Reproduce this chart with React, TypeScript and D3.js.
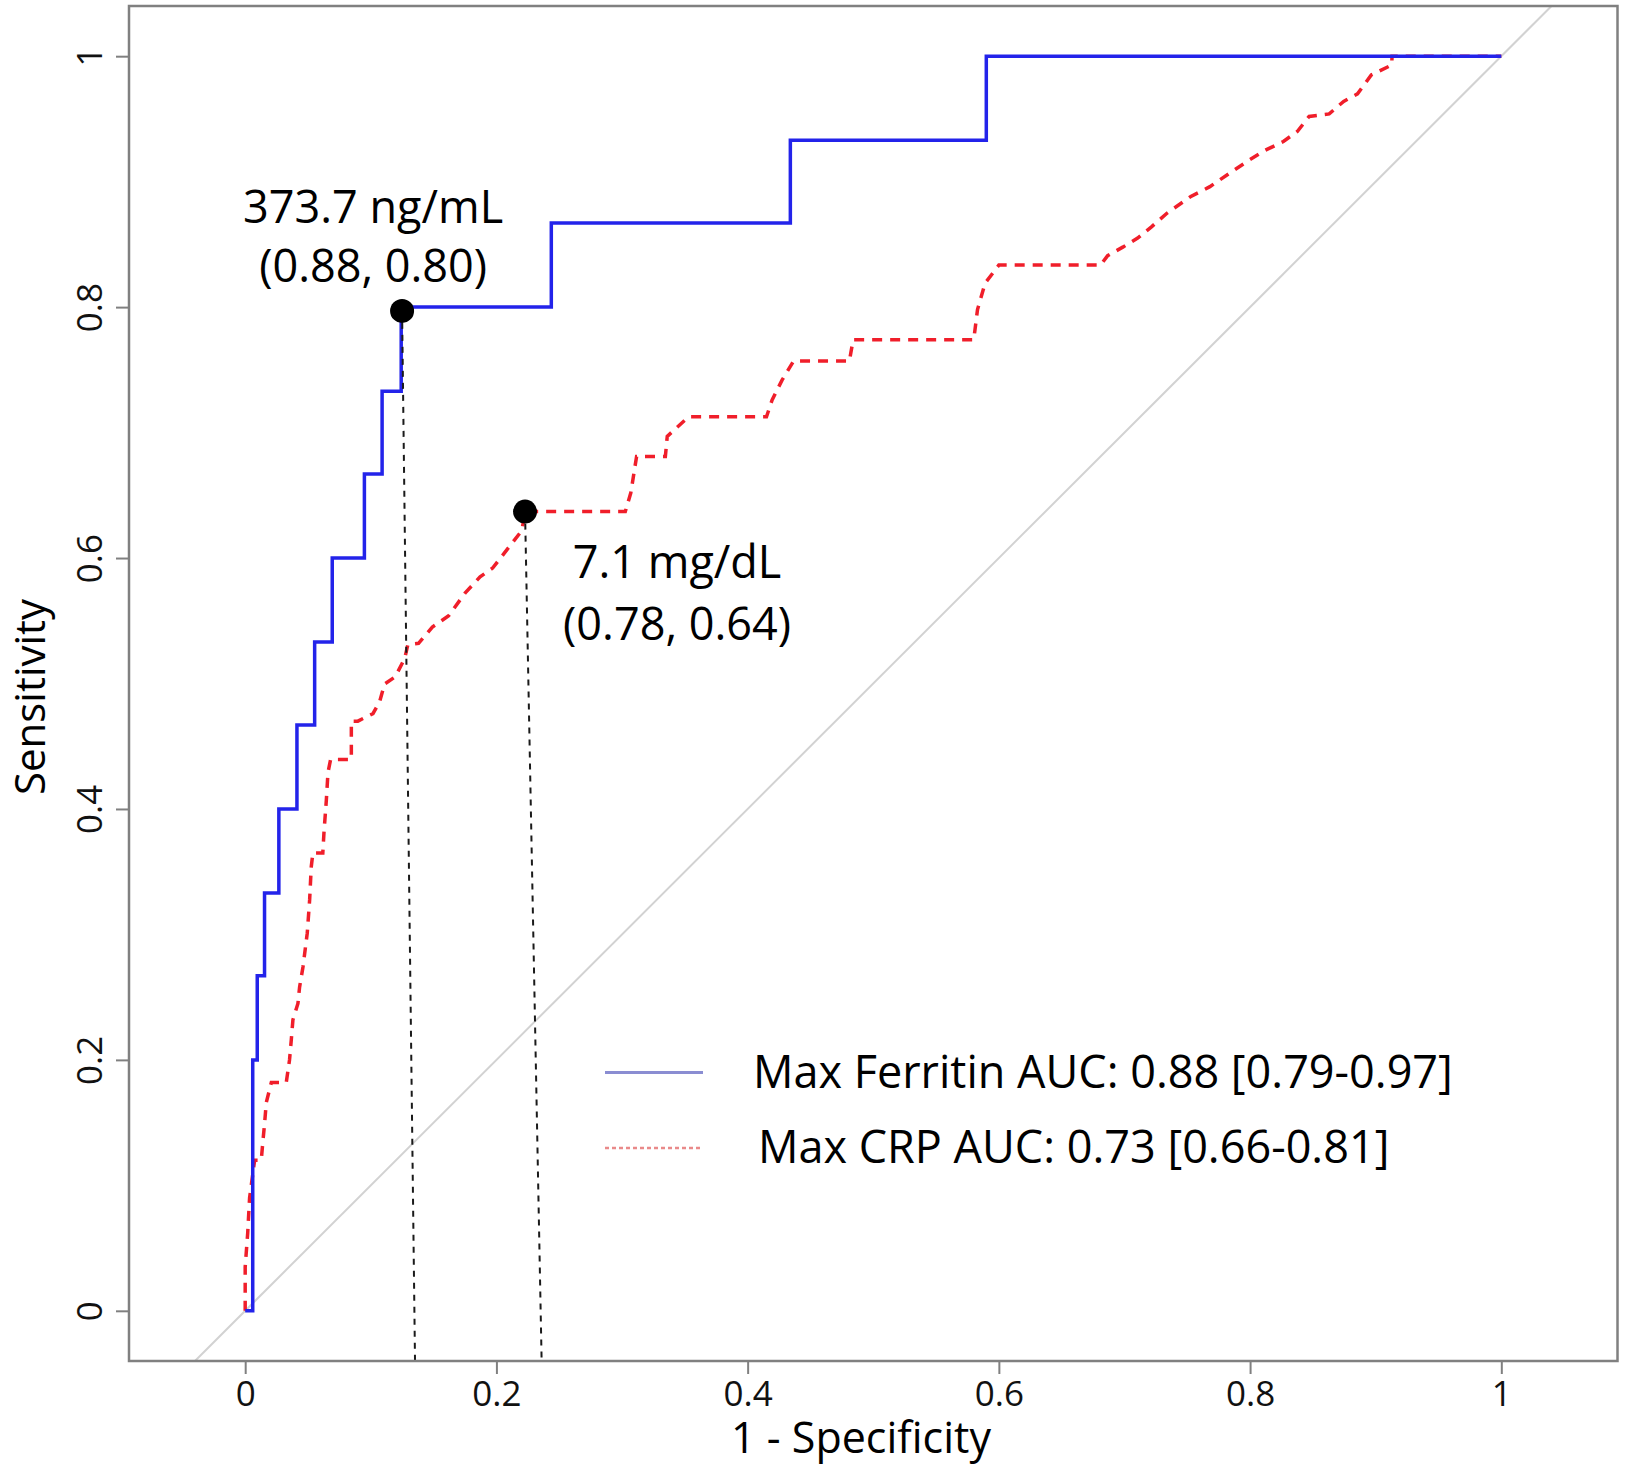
import React, { useEffect, useRef } from 'react';
import * as d3 from 'd3';

// ROC coordinates: [1 - specificity, sensitivity]
const ferritinRoc: [number, number][] = [
    [0, 0], [0.006, 0.2], [0.0096, 0.267], [0.0154, 0.333], [0.0268, 0.4],
    [0.0412, 0.467], [0.0553, 0.533], [0.0693, 0.6], [0.0949, 0.667],
    [0.109, 0.733], [0.1242, 0.8], [0.2437, 0.867], [0.434, 0.933],
    [0.59, 1.0], [1.0, 1.0]
];

const crpRoc: [number, number][] = [
    [0, 0], [0, 0.035], [0.002, 0.062], [0.0035, 0.09], [0.0075, 0.12], [0.0128, 0.12],
    [0.014, 0.134], [0.0155, 0.15], [0.0168, 0.166], [0.0208, 0.182], [0.0327, 0.182],
    [0.0353, 0.2], [0.0367, 0.216], [0.038, 0.232], [0.042, 0.245], [0.0433, 0.258],
    [0.046, 0.274], [0.0494, 0.301], [0.0513, 0.3275], [0.0526, 0.354], [0.0539, 0.365],
    [0.0618, 0.365], [0.0627, 0.381], [0.0646, 0.407], [0.0659, 0.429], [0.068, 0.4395],
    [0.0845, 0.4395], [0.0845, 0.47], [0.0897, 0.47], [0.1017, 0.476], [0.107, 0.4855],
    [0.111, 0.4996], [0.1195, 0.5054], [0.127, 0.52], [0.1295, 0.531], [0.138, 0.532],
    [0.149, 0.545], [0.162, 0.554], [0.175, 0.572], [0.187, 0.585], [0.197, 0.592],
    [0.211, 0.61], [0.2203, 0.622], [0.2228, 0.637], [0.3026, 0.637], [0.307, 0.652],
    [0.3116, 0.681], [0.3345, 0.681], [0.336, 0.697], [0.353, 0.7126], [0.415, 0.7126],
    [0.4195, 0.726], [0.4275, 0.742], [0.4366, 0.757], [0.481, 0.757], [0.484, 0.774],
    [0.58, 0.774], [0.583, 0.798], [0.589, 0.819], [0.6, 0.8335], [0.681, 0.8335],
    [0.6866, 0.841], [0.699, 0.848], [0.7105, 0.855], [0.7215, 0.864], [0.734, 0.875],
    [0.7525, 0.888], [0.768, 0.896], [0.784, 0.907], [0.799, 0.917], [0.812, 0.925],
    [0.8265, 0.932], [0.8376, 0.94], [0.847, 0.952], [0.863, 0.954], [0.8745, 0.964],
    [0.8855, 0.97], [0.8965, 0.985], [0.9128, 0.993], [0.913, 1.0], [1.0, 1.0]
];

// optimal cut-offs: point on the curve and where the hand-drawn drop line meets the axis
const cutoffPoints = [
    { fpr: 0.1249, tpr: 0.797, dropFpr: 0.1352, label: ['373.7 ng/mL', '(0.88, 0.80)'] },
    { fpr: 0.2228, tpr: 0.637, dropFpr: 0.236, label: ['7.1 mg/dL', '(0.78, 0.64)'] }
];

const tickValues = [0, 0.2, 0.4, 0.6, 0.8, 1];
const tickLabels = ['0', '0.2', '0.4', '0.6', '0.8', '1'];

const legendLabels = ['Max Ferritin AUC: 0.88 [0.79-0.97]', 'Max CRP AUC: 0.73 [0.66-0.81]'];

const FONT = "'Open Sans', sans-serif";

export default function App() {
    const svgRef = useRef<SVGSVGElement>(null);

    useEffect(() => {
        const svg = d3.select(svgRef.current);
        svg.selectAll('*').remove();

        const width = 1625;
        const height = 1469;
        const margin = { top: 6, right: 7.5, bottom: 108, left: 129 };
        const x0 = margin.left, x1 = width - margin.right;
        const y0 = height - margin.bottom, y1 = margin.top;

        // pROC style: equal aspect, x range widened around [0, 1]
        const x = d3.scaleLinear().domain([-0.0925, 1.0925]).range([x0, x1]);
        const y = d3.scaleLinear().domain([-0.04, 1.04]).range([y0, y1]);

        svg.append('rect')
            .attr('width', width).attr('height', height).attr('fill', '#fff');

        // chance diagonal
        svg.append('line')
            .attr('x1', x(-0.04)).attr('y1', y(-0.04))
            .attr('x2', x(1.04)).attr('y2', y(1.04))
            .attr('stroke', '#d2d2d2').attr('stroke-width', 2);

        // CRP curve (red dashed)
        const lineLinear = d3.line<[number, number]>().x(d => x(d[0])).y(d => y(d[1]));
        svg.append('path')
            .attr('d', lineLinear(crpRoc))
            .attr('fill', 'none')
            .attr('stroke', '#f01e2a')
            .attr('stroke-width', 3.5)
            .attr('stroke-dasharray', '10 8');

        // Ferritin curve (blue solid, step)
        const lineStep = d3.line<[number, number]>().x(d => x(d[0])).y(d => y(d[1])).curve(d3.curveStepAfter);
        svg.append('path')
            .attr('d', lineStep(ferritinRoc))
            .attr('fill', 'none')
            .attr('stroke', '#2323ea')
            .attr('stroke-width', 3.5);

        // drop lines from cut-offs to the x axis
        svg.selectAll('.drop')
            .data(cutoffPoints)
            .join('line')
            .attr('class', 'drop')
            .attr('x1', d => x(d.fpr)).attr('y1', d => y(d.tpr))
            .attr('x2', d => x(d.dropFpr)).attr('y2', y0)
            .attr('stroke', '#1a1a1a')
            .attr('stroke-width', 2)
            .attr('stroke-dasharray', '6 6');

        svg.selectAll('.cut')
            .data(cutoffPoints)
            .join('circle')
            .attr('class', 'cut')
            .attr('cx', d => x(d.fpr)).attr('cy', d => y(d.tpr))
            .attr('r', 12)
            .attr('fill', '#000');

        // cut-off annotations
        const labelOffsets = [
            { dx: -29, dy: [-88, -29] },
            { dx: 152, dy: [66, 128] }
        ];
        cutoffPoints.forEach((p, i) => {
            p.label.forEach((txt, j) => {
                svg.append('text')
                    .attr('x', x(p.fpr) + labelOffsets[i].dx)
                    .attr('y', y(p.tpr) + labelOffsets[i].dy[j])
                    .attr('text-anchor', 'middle')
                    .attr('font-family', FONT)
                    .attr('font-size', 45)
                    .attr('fill', '#000')
                    .text(txt);
            });
        });

        // axes
        svg.append('g')
            .attr('transform', `translate(0,${y0})`)
            .call(d3.axisBottom(x).tickValues(tickValues).tickFormat((_, i) => tickLabels[i]).tickSize(13).tickSizeOuter(0))
            .call(g => g.select('.domain').remove())
            .call(g => g.selectAll('.tick line').attr('stroke', '#808080').attr('stroke-width', 2))
            .call(g => g.selectAll('.tick text')
                .attr('y', 45).attr('dy', null)
                .attr('font-family', FONT).attr('font-size', 35).attr('fill', '#111'));

        svg.append('g')
            .attr('transform', `translate(${x0},0)`)
            .call(d3.axisLeft(y).tickValues(tickValues).tickFormat((_, i) => tickLabels[i]).tickSize(13).tickSizeOuter(0))
            .call(g => g.select('.domain').remove())
            .call(g => g.selectAll('.tick line').attr('stroke', '#808080').attr('stroke-width', 2))
            .call(g => g.selectAll('.tick text')
                .attr('x', 0).attr('y', -27).attr('dy', null)
                .attr('transform', 'rotate(-90)')
                .attr('text-anchor', 'middle')
                .attr('font-family', FONT).attr('font-size', 35).attr('fill', '#111'));

        // plot box
        svg.append('rect')
            .attr('x', x0).attr('y', y1)
            .attr('width', x1 - x0).attr('height', y0 - y1)
            .attr('fill', 'none')
            .attr('stroke', '#808080')
            .attr('stroke-width', 2.5);

        // axis titles
        svg.append('text')
            .attr('x', 861).attr('y', 1453)
            .attr('text-anchor', 'middle')
            .attr('font-family', FONT).attr('font-size', 43).attr('fill', '#000')
            .text('1 - Specificity');

        svg.append('text')
            .attr('transform', 'translate(45,697) rotate(-90)')
            .attr('text-anchor', 'middle')
            .attr('font-family', FONT).attr('font-size', 42).attr('fill', '#000')
            .text('Sensitivity');

        // legend
        const legendStyles = [
            { color: '#8a8dd2', dash: null, width: 3 },
            { color: '#e98a8a', dash: '4 3', width: 2.5 }
        ];
        const legendRows = [1072.6, 1148];
        const legendTextX = [753, 758];
        legendLabels.forEach((lbl, i) => {
            svg.append('line')
                .attr('x1', 605).attr('x2', 703)
                .attr('y1', legendRows[i]).attr('y2', legendRows[i])
                .attr('stroke', legendStyles[i].color)
                .attr('stroke-width', legendStyles[i].width)
                .attr('stroke-dasharray', legendStyles[i].dash);
            svg.append('text')
                .attr('x', legendTextX[i]).attr('y', legendRows[i] + 15)
                .attr('font-family', FONT).attr('font-size', 45).attr('fill', '#000')
                .text(lbl);
        });
    }, []);

    return (
        <svg
            ref={svgRef}
            width={1625}
            height={1469}
            style={{ position: 'absolute', left: 0, top: 0, display: 'block' }}
        />
    );
}
